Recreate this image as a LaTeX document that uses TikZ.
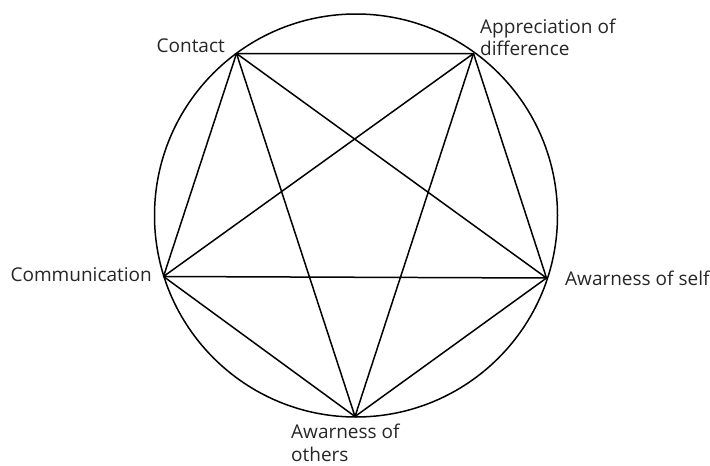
\documentclass[tikz,border=0pt]{standalone}
\usepackage{fontspec}
\setmainfont{Open Sans}
\begin{document}
\begin{tikzpicture}[x=1pt,y=-1pt,
  edge/.style={line width=1.5pt,black},
  lbl/.style={inner sep=0pt,font=\fontsize{19}{22}\selectfont,text=black!85}]
\useasboundingbox (0,0) rectangle (710,466);
\node[draw,line width=1.5pt,circle,minimum size=403pt,inner sep=0pt] (ring) at (356,215.5) {};
\coordinate (c) at (236.5,53.5);
\coordinate (a) at (473.5,53.5);
\coordinate (m) at (163.5,276.5);
\coordinate (s) at (546.5,278);
\coordinate (o) at (355,416.5);
\draw[edge,line join=round] (c) -- (a) -- (s) -- (o) -- (m) -- cycle;
\draw[edge] (c) -- (s) (c) -- (o) (a) -- (m) (a) -- (o) (m) -- (s);
\node[lbl,anchor=base east] (tc) at (225,52) {Contact};
\node[lbl,anchor=base west] (ta) at (480,33) {Appreciation of};
\node[lbl,anchor=base west] (ta2) at (480,55) {difference};
\node[lbl,anchor=base east] (tm) at (152,281.5) {Communication};
\node[lbl,anchor=base west] (ts) at (565,285) {Awarness of self};
\node[lbl,anchor=base west] (to) at (291,438) {Awarness of};
\node[lbl,anchor=base west] (to2) at (291,461) {others};
\end{tikzpicture}
\end{document}
